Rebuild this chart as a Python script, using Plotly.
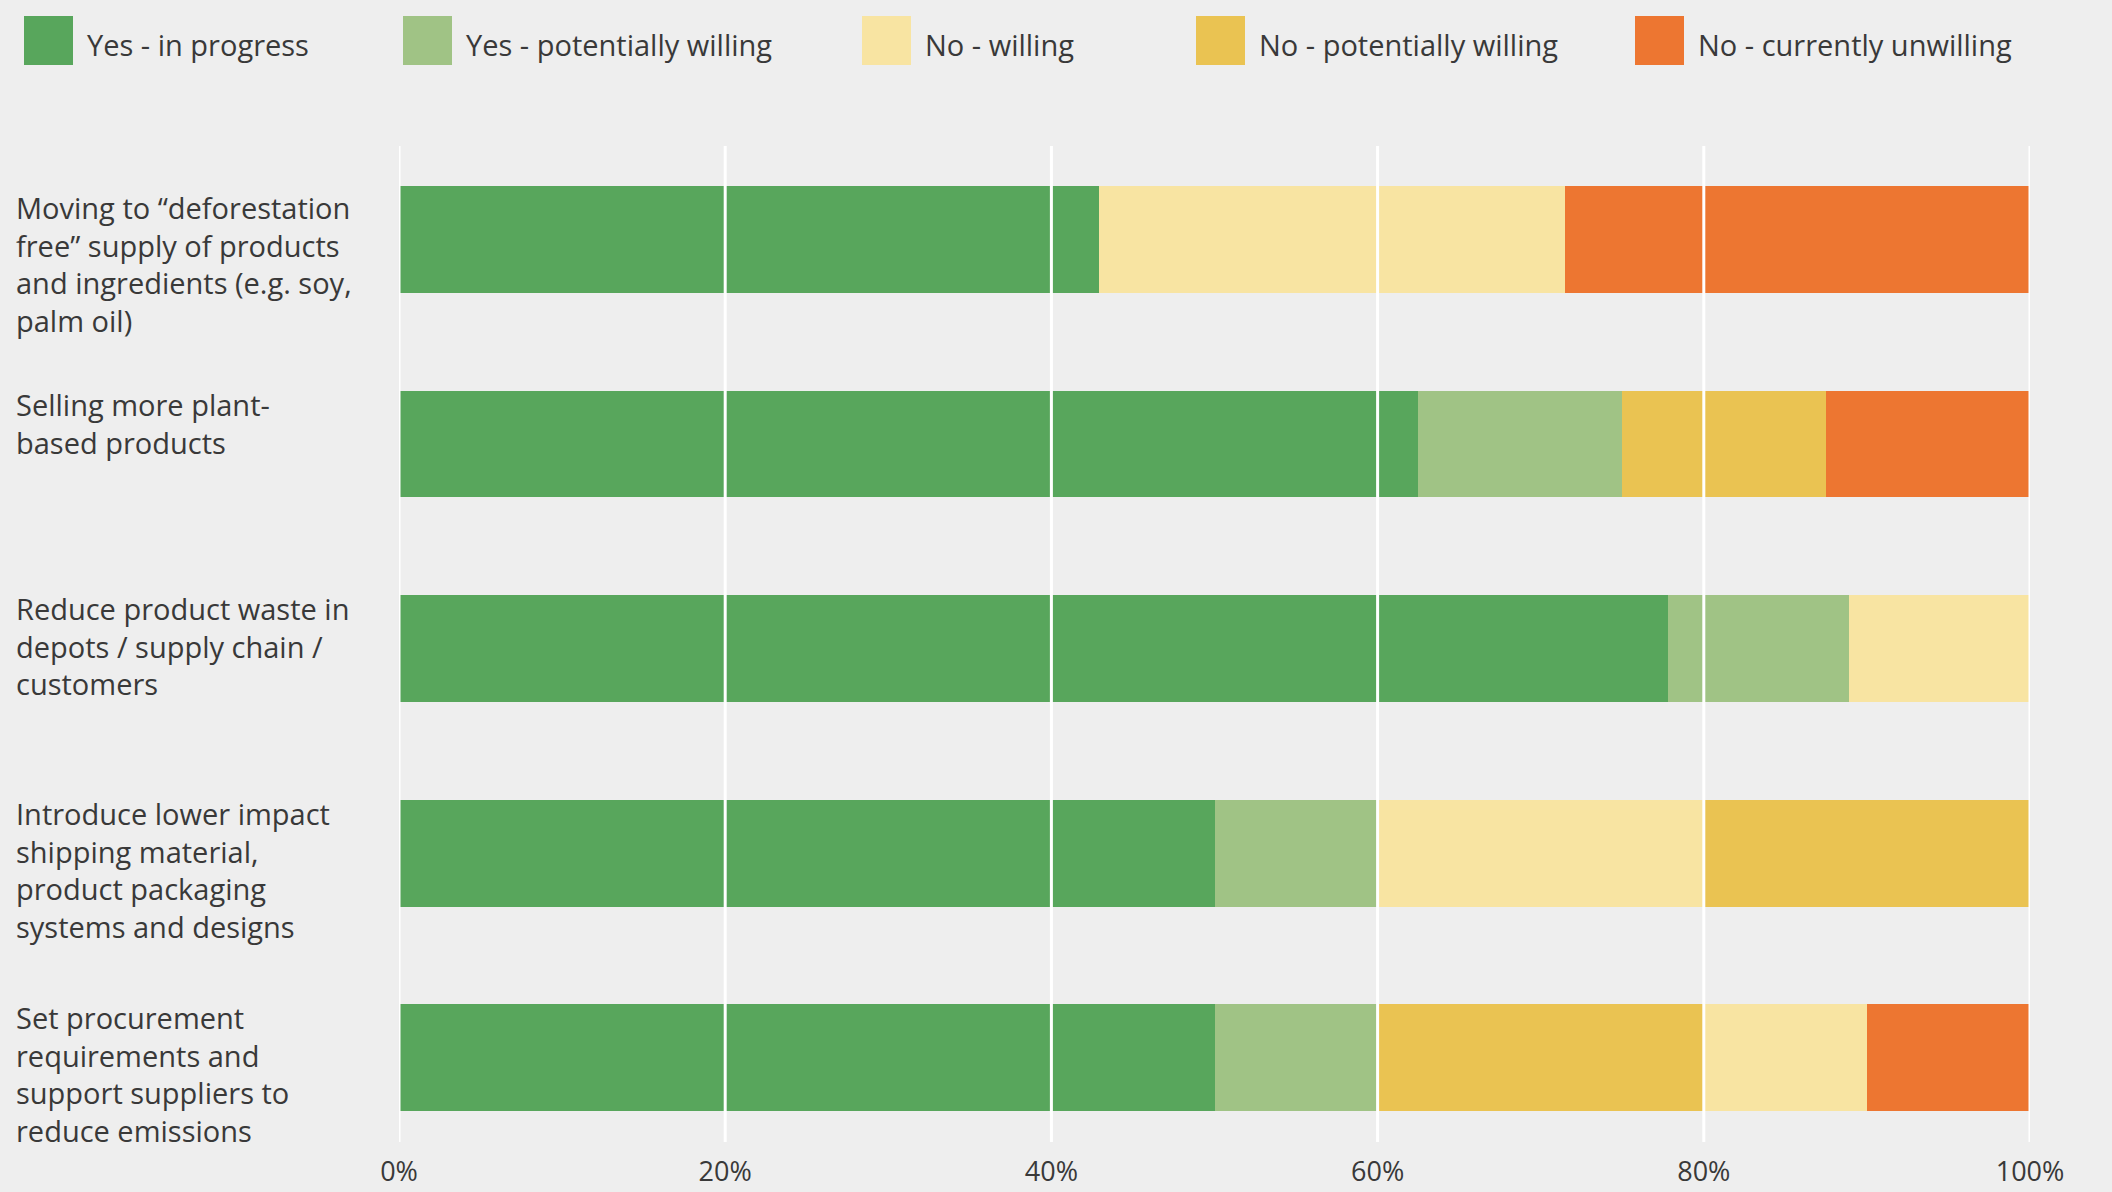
import plotly.graph_objects as go

# --- data -------------------------------------------------------------
categories = [
    "Moving to “deforestation<br>free” supply of products<br>and ingredients (e.g. soy,<br>palm oil)",
    "Selling more plant-<br>based products",
    "Reduce product waste in<br>depots / supply chain /<br>customers",
    "Introduce lower impact<br>shipping material,<br>product packaging<br>systems and designs",
    "Set procurement<br>requirements and<br>support suppliers to<br>reduce emissions",
]

series_names = [
    "Yes - in progress",
    "Yes - potentially willing",
    "No - willing",
    "No - potentially willing",
    "No - currently unwilling",
]

yes_in_progress = [42.9, 62.5, 77.8, 50.0, 50.0]
yes_potentially_willing = [0.0, 12.5, 11.1, 10.0, 10.0]
no_willing = [28.6, 0.0, 11.1, 20.0, 10.0]
no_potentially_willing = [0.0, 12.5, 0.0, 20.0, 20.0]
no_currently_unwilling = [28.5, 12.5, 0.0, 0.0, 10.0]

# order in which the segments are stacked on each row
default_order = series_names
stack_orders = [
    default_order,
    default_order,
    default_order,
    default_order,
    ["Yes - in progress", "Yes - potentially willing", "No - potentially willing",
     "No - willing", "No - currently unwilling"],
]

tick_values = [0, 20, 40, 60, 80, 100]
tick_labels = ["0%", "20%", "40%", "60%", "80%", "100%"]

# --- styling ------------------------------------------------------------
colors = {
    "Yes - in progress": "#58A65C",
    "Yes - potentially willing": "#A0C385",
    "No - willing": "#F8E4A2",
    "No - potentially willing": "#EAC352",
    "No - currently unwilling": "#ED7631",
}
BG = "#EEEEEE"
TEXT = "#393939"
FONT = "Open Sans"
FSIZE = 29

W, H = 2112, 1192
ML, MR, MT, MB = 399, 82, 146, 50
PW, PH = W - ML - MR, H - MT - MB
BAR_W = 0.523
label_shifts = [0, 8, 8, 8, 8]


def px_x(px):
    return (px - ML) / PW


def px_y(py):
    return (H - MB - py) / PH


values = {
    "Yes - in progress": yes_in_progress,
    "Yes - potentially willing": yes_potentially_willing,
    "No - willing": no_willing,
    "No - potentially willing": no_potentially_willing,
    "No - currently unwilling": no_currently_unwilling,
}

# stacking offsets for every segment, following each row's order
bases = {name: [0.0] * len(categories) for name in series_names}
for i, order in enumerate(stack_orders):
    run = 0.0
    for name in order:
        bases[name][i] = run
        run += values[name][i]

fig = go.Figure()
for name in series_names:
    fig.add_trace(go.Bar(
        name=name,
        orientation="h",
        y=list(range(len(categories))),
        x=values[name],
        base=bases[name],
        width=BAR_W,
        marker=dict(color=colors[name], line=dict(width=0)),
        showlegend=False,
        hovertemplate="%{x:.1f}%<extra>" + name + "</extra>",
    ))

shapes = []
# white vertical grid drawn over the bars
for v in tick_values:
    shapes.append(dict(type="line", xref="x", yref="paper", x0=v, x1=v, y0=0, y1=1,
                       line=dict(color="white", width=3), layer="above"))

annotations = []
# category labels, left aligned against the page edge
for i, cat in enumerate(categories):
    annotations.append(dict(
        xref="paper", yref="y", x=px_x(14), y=i - BAR_W / 2,
        xanchor="left", yanchor="top", align="left", showarrow=False,
        text=cat, font=dict(family=FONT, size=FSIZE, color=TEXT),
        yshift=label_shifts[i],
    ))

# legend row across the top
legend_x = [24, 403, 862, 1196, 1635]
SQ = 49
for name, lx in zip(series_names, legend_x):
    shapes.append(dict(type="rect", xref="paper", yref="paper",
                       x0=px_x(lx), x1=px_x(lx + SQ), y0=px_y(65), y1=px_y(16),
                       fillcolor=colors[name], line=dict(width=0), layer="above"))
    annotations.append(dict(
        xref="paper", yref="paper", x=px_x(lx + SQ + 12), y=px_y(44),
        xanchor="left", yanchor="middle", showarrow=False,
        text=name, font=dict(family=FONT, size=FSIZE, color=TEXT),
    ))

fig.update_layout(
    width=W, height=H,
    margin=dict(l=ML, r=MR, t=MT, b=MB, autoexpand=False),
    paper_bgcolor=BG, plot_bgcolor=BG,
    barmode="overlay",
    bargap=0,
    shapes=shapes,
    annotations=annotations,
    font=dict(family=FONT, size=FSIZE, color=TEXT),
    xaxis=dict(
        range=[0, 100], tickvals=tick_values, ticktext=tick_labels,
        showgrid=False, zeroline=False, showline=False, ticks="",
        ticklabelstandoff=11,
        tickfont=dict(family=FONT, size=27, color=TEXT),
        fixedrange=True,
    ),
    yaxis=dict(
        range=[4.413, -0.457], showticklabels=False, showgrid=False,
        zeroline=False, showline=False, ticks="", fixedrange=True,
    ),
)

fig.write_html("out.html")
